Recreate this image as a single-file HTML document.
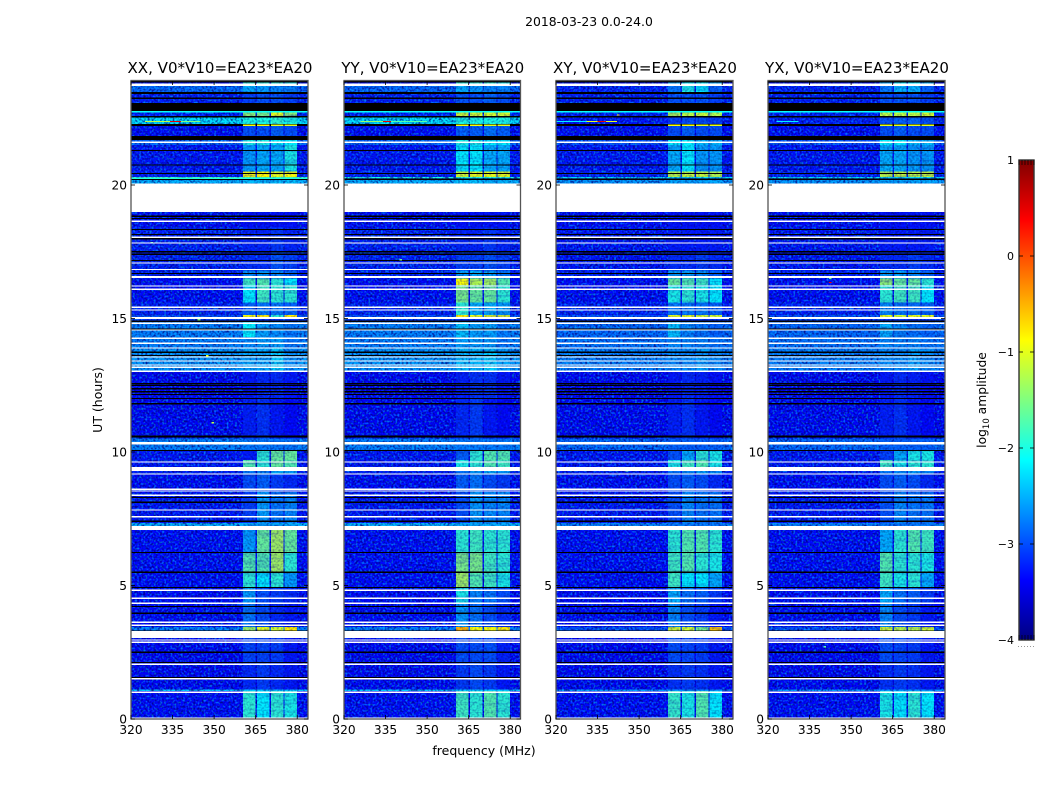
<!DOCTYPE html>
<html>
<head>
<meta charset="utf-8">
<title>2018-03-23 0.0-24.0</title>
<style>
html,body{margin:0;padding:0;background:#fff;width:1050px;height:800px;overflow:hidden}
svg{display:block}
text{font-family:"DejaVu Sans","Liberation Sans",sans-serif;fill:#000}
</style>
</head>
<body>
<svg id="fig" xmlns="http://www.w3.org/2000/svg" width="1050" height="800" viewBox="0 0 1050 800">
  <defs>
    <filter id="speckle-dark" x="0" y="0" width="100%" height="100%" color-interpolation-filters="sRGB">
      <feTurbulence type="fractalNoise" baseFrequency="0.48" numOctaves="1" seed="7"/>
      <feColorMatrix type="matrix" values="0 0 0 0 0  0 0 0 0 0  0 0 0 0 0.5  3.4 0 0 0 -1.45"/>
    </filter>
    <filter id="speckle-bright" x="0" y="0" width="100%" height="100%" color-interpolation-filters="sRGB">
      <feTurbulence type="fractalNoise" baseFrequency="0.48" numOctaves="1" seed="23"/>
      <feColorMatrix type="matrix" values="0 0 0 0 0  0 0 0 0 0.75  0 0 0 0 1  0 3.4 0 0 -1.65"/>
    </filter>
    <filter id="band-streaks" x="0" y="0" width="100%" height="100%" color-interpolation-filters="sRGB">
      <feTurbulence type="fractalNoise" baseFrequency="0.025 0.4" numOctaves="2" seed="11"/>
      <feColorMatrix type="matrix" values="0 0 0 0 0  0 0 0 0 0.1  0 0 0 0 0.75  4 0 0 0 -1.9"/>
    </filter>
    <linearGradient id="jet-gradient" x1="0" y1="1" x2="0" y2="0"></linearGradient>
  </defs>
  <text x="589" y="26" font-size="12.4" text-anchor="middle">2018-03-23 0.0-24.0</text>
  <g id="panels"></g>
  <text x="484" y="755" font-size="12.5" text-anchor="middle">frequency (MHz)</text>
  <text transform="translate(102,400) rotate(-90)" font-size="12.5" text-anchor="middle">UT (hours)</text>
  <g id="colorbar"></g>
  <text transform="translate(986,400) rotate(-90)" font-size="12.3" text-anchor="middle">log<tspan font-size="8.5" dy="3">10</tspan><tspan dy="-3"> amplitude</tspan></text>
</svg>
<script>
// ---- chart data -------------------------------------------------------
const panelTitles = ['XX, V0*V10=EA23*EA20','YY, V0*V10=EA23*EA20','XY, V0*V10=EA23*EA20','YX, V0*V10=EA23*EA20'];
const freqTicks = [320,335,350,365,380];
const hourTicks = [0,5,10,15,20];
const cbarTicks = [-4,-3,-2,-1,0,1];
// Frequency ranges (MHz) of the four bright sub-bands
const bandEdges = [[360.5,365],[365.5,370],[370.5,375],[375.5,380]];
// Time boundaries (hours) of the rows in the amplitude tables
const rowEdges = [0,1.05,1.1,2.13,3.03,3.3,3.45,4.3,4.95,5.51,6.25,7.08,7.35,8.5,9.2,9.44,9.7,10.07,10.5,12,13,13.9,14.3,14.9,15.03,15.14,15.6,16.25,16.5,16.8,17.5,18.4,19,20.06,20.26,20.3,20.5,21.5,21.68,22.28,22.55,22.58,22.8,23.07,23.48,23.7,23.95];
// log10 amplitude per row: background, band 1..4
const ampXX = [
[-3.1,-1.9,-2.1,-1.9,-2.0],[-2.3,-2.3,-2.3,-2.3,-2.3],[-3.15,-2.9,-2.8,-2.9,-3.0],[-3.15,-2.75,-2.75,-2.8,-3.0],[-3,-3,-3,-3,-3],
[-2.6,-1.3,-1.0,-1.1,-0.8],[-3.1,-2.5,-2.7,-2.9,-3.0],[-3.1,-2.3,-2.7,-2.8,-2.9],[-3.1,-1.9,-2.1,-1.9,-2.3],[-3.1,-1.7,-1.7,-1.3,-1.9],
[-3.1,-2.3,-1.6,-1.3,-1.6],[-2.4,-2.4,-2.4,-2.4,-2.4],[-3.05,-2.8,-2.3,-2.5,-2.4],[-3.1,-2.7,-2.6,-2.8,-2.9],[-3.0,-2.5,-2.4,-2.2,-2.3],
[-3.05,-1.7,-1.9,-1.6,-1.7],[-3.05,-3.0,-1.9,-1.6,-1.6],[-2.6,-2.6,-2.6,-2.6,-2.6],[-3.15,-2.95,-2.85,-3.0,-3.1],[-3.15,-3.0,-2.9,-2.9,-3.0],
[-2.5,-2.4,-2.4,-2.2,-2.5],[-2.6,-2.5,-2.4,-2.4,-2.6],[-2.6,-2.1,-2.4,-2.5,-2.6],[-2.9,-2.9,-2.9,-2.9,-2.9],[-2.8,-0.9,-0.8,-1.9,-0.8],
[-3.0,-2.6,-2.5,-2.5,-2.6],[-3.1,-2.1,-1.8,-1.9,-1.9],[-3.1,-1.8,-1.7,-1.9,-2.1],[-3.0,-2.4,-2.3,-2.4,-2.6],[-3.0,-2.9,-2.9,-2.7,-2.8],
[-3.0,-2.95,-2.95,-2.85,-2.95],[-3.1,-3.05,-3.05,-3.05,-3.05],[-3,-3,-3,-3,-3],[-2.4,-2.3,-2.3,-2.3,-2.3],[-1.6,-1.6,-1.6,-1.6,-1.6],
[-3.0,-0.9,-0.85,-1.0,-0.9],[-3.05,-2.3,-2.2,-2.2,-2.0],[-2.7,-2.0,-2.0,-2.1,-2.1],[-3.1,-2.7,-2.7,-2.6,-2.7],[-2.2,-2.0,-2.0,-1.9,-2.0],
[-3,-3,-3,-3,-3],[-3.0,-1.4,-1.5,-1.0,-1.4],[-3,-3,-3,-3,-3],[-3.0,-2.8,-2.7,-2.7,-2.8],[-2.7,-2.3,-2.4,-2.5,-2.5],[-3.1,-1.9,-1.9,-1.9,-2.0]];
const ampYY = [
[-3.1,-1.8,-1.9,-1.7,-1.9],[-2.3,-2.3,-2.3,-2.3,-2.3],[-3.15,-2.8,-2.7,-2.8,-3.0],[-3.15,-2.7,-2.7,-2.7,-2.95],[-3,-3,-3,-3,-3],
[-2.6,-0.5,-0.9,-0.9,-0.8],[-3.1,-2.3,-2.5,-2.7,-2.9],[-3.1,-2.0,-2.4,-2.5,-2.7],[-3.1,-1.3,-1.7,-1.8,-2.0],[-3.1,-1.5,-1.5,-1.8,-1.9],
[-3.1,-1.9,-1.8,-1.9,-1.9],[-2.4,-2.4,-2.4,-2.4,-2.4],[-3.05,-2.7,-2.3,-2.4,-2.4],[-3.1,-2.6,-2.5,-2.7,-2.8],[-3.0,-2.5,-2.3,-2.2,-2.3],
[-3.05,-2.0,-1.9,-1.7,-1.8],[-3.05,-2.6,-1.9,-1.7,-1.7],[-2.6,-2.6,-2.6,-2.6,-2.6],[-3.15,-2.9,-2.8,-3.0,-3.1],[-3.15,-2.95,-2.85,-2.85,-3.0],
[-2.5,-2.3,-2.3,-2.2,-2.4],[-2.6,-2.4,-2.4,-2.4,-2.6],[-2.6,-2.2,-2.4,-2.4,-2.6],[-2.9,-2.9,-2.9,-2.9,-2.9],[-2.8,-0.8,-1.0,-1.0,-1.0],
[-3.0,-1.9,-2.2,-2.2,-2.3],[-3.1,-1.5,-1.6,-1.6,-1.9],[-3.1,-0.9,-1.25,-1.3,-1.7],[-3.0,-2.3,-2.2,-2.3,-2.5],[-3.0,-2.8,-2.8,-2.7,-2.8],
[-3.0,-2.95,-2.95,-2.85,-2.95],[-3.1,-3.05,-3.05,-3.05,-3.05],[-3,-3,-3,-3,-3],[-2.4,-2.3,-2.3,-2.3,-2.3],[-2.0,-2.0,-2.0,-2.0,-2.0],
[-3.0,-1.1,-1.0,-1.0,-1.0],[-3.05,-2.1,-2.1,-2.2,-2.2],[-2.7,-2.0,-2.0,-2.1,-2.1],[-3.1,-2.6,-2.6,-2.5,-2.6],[-2.2,-2.0,-2.0,-2.0,-2.0],
[-3,-3,-3,-3,-3],[-3.0,-1.1,-1.1,-1.1,-1.1],[-3,-3,-3,-3,-3],[-3.0,-2.7,-2.7,-2.6,-2.7],[-2.7,-2.3,-2.4,-2.5,-2.5],[-3.1,-1.9,-1.9,-1.9,-2.0]];
const ampXY = [
[-3.1,-1.85,-2.0,-1.7,-2.1],[-2.5,-2.5,-2.5,-2.5,-2.5],[-3.15,-2.85,-2.8,-2.85,-3.0],[-3.15,-2.7,-2.75,-2.8,-3.0],[-3,-3,-3,-3,-3],
[-2.8,-1.1,-1.1,-1.5,-0.6],[-3.1,-2.4,-2.7,-2.8,-3.0],[-3.1,-2.2,-2.5,-2.6,-2.8],[-3.1,-1.8,-2.1,-2.1,-2.2],[-3.1,-1.8,-1.7,-1.9,-2.0],
[-3.1,-1.9,-1.7,-1.7,-1.9],[-2.6,-2.6,-2.6,-2.6,-2.6],[-3.05,-2.7,-2.4,-2.5,-2.5],[-3.1,-2.7,-2.6,-2.7,-2.9],[-3.0,-2.5,-2.4,-2.3,-2.4],
[-3.05,-2.0,-1.8,-1.7,-2.0],[-3.05,-2.7,-2.2,-1.9,-2.0],[-2.7,-2.7,-2.7,-2.7,-2.7],[-3.15,-2.95,-2.85,-3.0,-3.1],[-3.15,-3.0,-2.9,-2.95,-3.05],
[-2.6,-2.5,-2.5,-2.4,-2.5],[-2.65,-2.5,-2.5,-2.5,-2.6],[-2.7,-2.2,-2.5,-2.6,-2.7],[-2.9,-2.9,-2.9,-2.9,-2.9],[-2.8,-1.0,-1.0,-1.1,-1.1],
[-3.0,-2.5,-2.5,-2.5,-2.6],[-3.1,-2.0,-1.9,-2.0,-2.1],[-3.1,-1.6,-1.7,-1.8,-2.1],[-3.0,-2.3,-2.3,-2.4,-2.6],[-3.05,-2.9,-2.9,-2.8,-2.9],
[-3.05,-3.0,-3.0,-3.0,-3.0],[-3.1,-3.05,-3.05,-3.05,-3.05],[-3,-3,-3,-3,-3],[-2.5,-2.4,-2.4,-2.4,-2.4],[-2.2,-2.2,-2.2,-2.2,-2.2],
[-3.0,-1.2,-1.15,-1.15,-1.25],[-3.05,-2.2,-2.1,-2.3,-2.3],[-2.8,-2.1,-2.1,-2.2,-2.2],[-3.1,-2.7,-2.6,-2.7,-2.7],[-3.05,-2.8,-2.7,-2.7,-2.8],
[-3,-3,-3,-3,-3],[-3.0,-1.25,-1.2,-1.15,-1.25],[-3,-3,-3,-3,-3],[-3.0,-2.7,-2.7,-2.7,-2.8],[-3.0,-2.5,-2.0,-2.1,-2.6],[-3.1,-2.2,-2.1,-2.1,-2.2]];
const ampYX = [
[-3.1,-2.0,-2.1,-1.9,-2.1],[-2.5,-2.5,-2.5,-2.5,-2.5],[-3.15,-2.85,-2.8,-2.85,-3.0],[-3.15,-2.7,-2.75,-2.8,-3.0],[-3,-3,-3,-3,-3],
[-2.8,-1.1,-1.2,-1.2,-1.1],[-3.1,-2.4,-2.7,-2.8,-3.0],[-3.1,-2.2,-2.5,-2.6,-2.8],[-3.1,-1.8,-2.0,-1.9,-2.2],[-3.1,-1.7,-1.9,-1.9,-2.0],
[-3.1,-2.2,-1.9,-1.7,-1.8],[-2.6,-2.6,-2.6,-2.6,-2.6],[-3.05,-2.7,-2.4,-2.5,-2.5],[-3.1,-2.7,-2.6,-2.7,-2.9],[-3.0,-2.5,-2.4,-2.3,-2.4],
[-3.05,-1.8,-2.0,-1.9,-1.9],[-3.05,-2.8,-2.2,-2.0,-2.0],[-2.7,-2.7,-2.7,-2.7,-2.7],[-3.15,-2.95,-2.85,-3.0,-3.1],[-3.15,-3.0,-2.9,-2.95,-3.05],
[-2.6,-2.5,-2.5,-2.4,-2.5],[-2.65,-2.5,-2.5,-2.5,-2.6],[-2.7,-2.3,-2.5,-2.6,-2.7],[-2.9,-2.9,-2.9,-2.9,-2.9],[-2.8,-1.0,-1.1,-1.0,-1.0],
[-3.0,-2.4,-2.5,-2.5,-2.6],[-3.1,-1.9,-1.8,-1.8,-2.1],[-3.1,-1.4,-1.6,-1.6,-1.9],[-3.0,-2.3,-2.3,-2.4,-2.6],[-3.05,-2.9,-2.9,-2.8,-2.9],
[-3.05,-3.0,-3.0,-3.0,-3.0],[-3.1,-3.05,-3.05,-3.05,-3.05],[-3,-3,-3,-3,-3],[-2.5,-2.4,-2.4,-2.4,-2.4],[-2.2,-2.2,-2.2,-2.2,-2.2],
[-3.0,-1.2,-1.15,-1.2,-1.15],[-3.05,-2.2,-2.2,-2.3,-2.3],[-2.8,-2.1,-2.1,-2.2,-2.2],[-3.1,-2.7,-2.6,-2.7,-2.7],[-3.0,-2.7,-2.6,-2.6,-2.7],
[-3,-3,-3,-3,-3],[-3.0,-1.2,-1.2,-1.2,-1.1],[-3,-3,-3,-3,-3],[-3.0,-2.7,-2.7,-2.7,-2.8],[-3.0,-2.5,-2.2,-2.2,-2.6],[-3.1,-2.2,-2.1,-2.1,-2.2]];
const panelAmps = [ampXX, ampYY, ampXY, ampYX];
// Flagged time ranges (hours) drawn white
const flagged = [[0.02,0.05],[0.98,1.03],[1.48,1.53],[2.04,2.08],[2.86,2.9],[2.94,2.98],[3.03,3.3],[3.5,3.54],[3.61,3.65],[4.32,4.36],[4.51,4.55],[4.81,4.85],[7.08,7.23],[7.55,7.6],[7.81,7.85],[8.37,8.41],[8.52,8.56],[8.59,8.63],[9.16,9.2],[9.29,9.44],[9.61,9.65],[10.28,10.37],[13.01,13.05],[13.16,13.2],[13.24,13.28],[13.39,13.43],[13.54,13.58],[13.88,13.92],[14.06,14.1],[14.25,14.29],[14.55,14.59],[14.81,14.85],[14.98,15.06],[15.3,15.34],[15.41,15.45],[16.08,16.12],[16.2,16.24],[16.52,16.59],[16.82,16.86],[17.06,17.1],[17.81,17.85],[18.03,18.07],[18.63,18.67],[18.99,20.06],[21.57,21.63],[23.71,23.8]];
// Time ranges (hours) with zero amplitude, drawn black
const zeroed = [[1.56,1.58],[2.12,2.14],[2.5,2.52],[3.3,3.32],[3.96,3.98],[4.22,4.24],[4.93,4.95],[5.5,5.52],[6.24,6.26],[7.41,7.43],[8.12,8.14],[8.3,8.32],[10.06,10.08],[10.55,10.61],[11.81,11.83],[12.01,12.03],[12.16,12.18],[12.26,12.28],[12.37,12.39],[12.5,12.52],[12.57,12.59],[13.62,13.64],[13.74,13.76],[14.6,14.62],[14.9,14.92],[16.69,16.71],[17.18,17.2],[17.41,17.43],[17.5,17.52],[17.99,18.01],[18.15,18.17],[18.34,18.36],[18.75,18.77],[18.83,18.85],[20.22,20.24],[20.42,20.45],[20.75,20.77],[21.3,21.32],[21.69,21.84],[22.21,22.28],[22.55,22.58],[22.77,23.07],[23.25,23.27],[23.41,23.48],[23.87,23.89]];
// Narrow-band interference: [panel, startMHz, endMHz, hour, log10 amplitude]
const rfiSegments = [
[0,325,334,22.38,-1.2],[0,334,338,22.38,0.5],[0,338,345,22.38,-1.5],
[1,326,334,22.38,-1.4],[1,334,337,22.38,0.5],[1,337,350,22.38,-1.7],
[2,320,331,22.38,-2.2],[2,331,335,22.38,-1.0],[2,335,338,22.38,0.5],[2,338,342,22.38,-1.0],
[3,323,331,22.38,-2.2],
[0,360.5,365,22.24,-0.9],[0,365.5,370,22.24,-0.9],[0,370.5,375,22.24,-1.0],[0,375.5,380,22.24,-1.0],
[1,360.5,365,22.24,-0.9],[1,365.5,370,22.24,-0.9],[1,370.5,375,22.24,-1.0],[1,375.5,380,22.24,-1.0],
[2,360.5,365,22.24,-0.9],[2,365.5,370,22.24,-0.9],[2,370.5,375,22.24,-1.0],[2,375.5,380,22.24,-1.0],
[3,360.5,365,22.24,-1.0],[3,365.5,370,22.24,-1.0],[3,370.5,375,22.24,-1.0],[3,375.5,380,22.24,-1.0],
[0,320,384,22.75,-2.1],[1,320,384,22.75,-2.1],[2,320,384,22.75,-2.1],[3,320,384,22.75,-2.1],
[0,320,384,20.26,-2.0],
[2,342,343,22.62,-0.7],
[0,327,328,17.83,-1.7],[0,344,345,14.95,-1.5],[0,349,350,11.1,-1.2],[0,347,348,13.6,-1.0],[0,349,350,3.1,-1.6],
[1,340,341,17.2,-1.6],[1,328,329,3.2,-1.7],[2,345,346,9.3,-1.5],[3,340,341,2.7,-1.7],
[3,342,343,16.5,-1.6],[3,342,343,16.35,0.4]];

// ---- layout and scales ------------------------------------------------
const SVGNS = 'http://www.w3.org/2000/svg';
const plotTop = 81, plotBottom = 719, pxPerHour = 26.7, pxPerMHz = 2.77;
const panelLeft = [131,344,556,768];
const panelWidth = [177,176.5,177,177];
function xScale(panel, f){ return panelLeft[panel] + (f-320)*pxPerMHz; }
function yScale(h){ return plotBottom - h*pxPerHour; }
function jet(v){
  const t = Math.max(0,Math.min(1,(v+4)/5));
  const ch = x => Math.round(255*Math.max(0,Math.min(1,1.5-Math.abs(4*t-x))));
  return 'rgb('+ch(3)+','+ch(2)+','+ch(1)+')';
}
// The speckle layers add brightness to faint cells, so faint base colours are pulled down a little
function cellColor(v){
  const k = Math.max(0,Math.min(1,-2-v));
  return jet(v-0.25*k);
}
function mk(parent, tag, attrs){
  const el = document.createElementNS(SVGNS, tag);
  for(const k in attrs) el.setAttribute(k, attrs[k]);
  parent.appendChild(el);
  return el;
}
const panelsRoot = document.getElementById('panels');
panelTitles.forEach((title, p) => {
  const L = panelLeft[p], W = panelWidth[p], R = L+W;
  const clipId = 'clip'+p;
  const g = mk(panelsRoot,'g',{});
  
  
  const cp = mk(g,'clipPath',{id:clipId});
  mk(cp,'rect',{x:L,y:plotTop,width:W,height:plotBottom-plotTop});
  const heat = mk(g,'g',{'clip-path':'url(#'+clipId+')','shape-rendering':'crispEdges'});
  
  
  panelAmps[p].forEach((row, i) => {
    const y0 = yScale(rowEdges[i+1]), y1 = yScale(rowEdges[i]);
    const bg = mk(heat,'rect',{x:L,y:y0,width:W,height:y1-y0,fill:cellColor(row[0])});
    
    
  });
  const dark = mk(g,'rect',{x:L,y:plotTop,width:W,height:plotBottom-plotTop,filter:'url(#speckle-dark)',opacity:'0.8'});
  
  
  const bright = mk(g,'rect',{x:L,y:plotTop,width:W,height:plotBottom-plotTop,filter:'url(#speckle-bright)',opacity:'0.6'});
  
  
  const bands = mk(g,'g',{'clip-path':'url(#'+clipId+')','shape-rendering':'crispEdges'});
  
  
  panelAmps[p].forEach((row, i) => {
    const y0 = yScale(rowEdges[i+1]), y1 = yScale(rowEdges[i]);
    bandEdges.forEach((b, j) => {
      const v = row[j+1];
      const x0 = xScale(p,b[0]), x1 = xScale(p,b[1]);
      const c = mk(bands,'rect',{x:x0,y:y0,width:x1-x0,height:y1-y0,fill:cellColor(v),opacity:(v>-1.3?1:(v>-2.2?0.92:0.72))});
      
      
    });
  });
  const streaks = mk(g,'rect',{x:xScale(p,360.5),y:plotTop,width:19.5*pxPerMHz,height:plotBottom-plotTop,filter:'url(#band-streaks)',opacity:'0.18'});
  
  
  const bandNoise = mk(g,'rect',{x:xScale(p,360.5),y:plotTop,width:19.5*pxPerMHz,height:plotBottom-plotTop,filter:'url(#speckle-dark)',opacity:'0.3'});
  
  
  const over = mk(g,'g',{'clip-path':'url(#'+clipId+')','shape-rendering':'crispEdges'});
  zeroed.forEach(z => {
    const r = mk(over,'rect',{x:L,y:yScale(z[1]),width:W,height:Math.max(1.2,(z[1]-z[0])*pxPerHour),fill:'#000'});
    
    
  });
  rfiSegments.filter(s => s[0]===p).forEach(s => {
    const r = mk(over,'rect',{x:xScale(p,s[1]),y:yScale(s[3])-0.7,width:(s[2]-s[1])*pxPerMHz,height:1.4,fill:jet(s[4])});
    
    
  });
  flagged.forEach(z => {
    const r = mk(over,'rect',{x:L,y:yScale(z[1]),width:W,height:Math.max(1.3,(z[1]-z[0])*pxPerHour),fill:'#fff'});
    
    
  });
  const frame = mk(g,'rect',{x:L,y:plotTop-0.5,width:W,height:plotBottom-plotTop+0.5,fill:'none',stroke:'#555','stroke-width':1.3});
  
  
  const t = mk(g,'text',{x:L+W/2+0.5,y:73,'font-size':15.05,'text-anchor':'middle'});
  t.textContent = title;
  
  
  freqTicks.forEach(f => {
    const x = xScale(p,f);
    mk(g,'line',{x1:x,x2:x,y1:plotBottom,y2:plotBottom-4,stroke:'#000','stroke-width':0.8});
    mk(g,'line',{x1:x,x2:x,y1:plotTop,y2:plotTop+4,stroke:'#000','stroke-width':0.8});
    const lb = mk(g,'text',{x:x,y:734,'font-size':12.2,'text-anchor':'middle'});
    lb.textContent = f;
    
    
  });
  hourTicks.forEach(h => {
    const y = yScale(h);
    mk(g,'line',{x1:L,x2:L+4,y1:y,y2:y,stroke:'#000','stroke-width':0.8});
    mk(g,'line',{x1:R,x2:R-4,y1:y,y2:y,stroke:'#000','stroke-width':0.8});
    const lb = mk(g,'text',{x:L-4,y:y+4.5,'font-size':12.2,'text-anchor':'end'});
    lb.textContent = h;
    
    
  });
});

// ---- colorbar ---------------------------------------------------------
const cbX = 1019, cbW = 15, cbTop = 160, cbBottom = 640;
function cbY(v){ return cbBottom - (v+4)/5*(cbBottom-cbTop); }
const grad = document.getElementById('jet-gradient');
for(let i=0;i<=40;i++){
  mk(grad,'stop',{offset:(i/40),'stop-color':jet(-4+5*i/40)});
}
const cb = document.getElementById('colorbar');
const cbFill = mk(cb,'rect',{x:cbX,y:cbTop,width:cbW,height:cbBottom-cbTop,fill:'url(#jet-gradient)'});


const cbFrame = mk(cb,'rect',{x:cbX,y:cbTop,width:cbW,height:cbBottom-cbTop,fill:'none',stroke:'#333','stroke-width':1.4});


cbarTicks.forEach(v => {
  const y = cbY(v);
  if(v>-4 && v<1){
    mk(cb,'line',{x1:cbX,x2:cbX+4,y1:y,y2:y,stroke:'#000','stroke-width':0.8});
    mk(cb,'line',{x1:cbX+cbW,x2:cbX+cbW-4,y1:y,y2:y,stroke:'#000','stroke-width':0.8});
  }
  const lb = mk(cb,'text',{x:cbX-5,y:y+4,'font-size':11,'text-anchor':'end'});
  lb.textContent = v<0 ? '\u2212'+Math.abs(v) : v;
  
  
});
[0,3,6,9,12,15].forEach(d => {
  mk(cb,'line',{x1:cbX+d,x2:cbX+d,y1:cbTop,y2:cbTop+5,stroke:'#000','stroke-width':0.7});
  mk(cb,'line',{x1:cbX+d,x2:cbX+d,y1:cbBottom,y2:cbBottom-5,stroke:'#000','stroke-width':0.7});
  mk(cb,'rect',{x:cbX+d-1,y:646,width:1,height:1,fill:'#999'});
});
</script>
</body>
</html>
